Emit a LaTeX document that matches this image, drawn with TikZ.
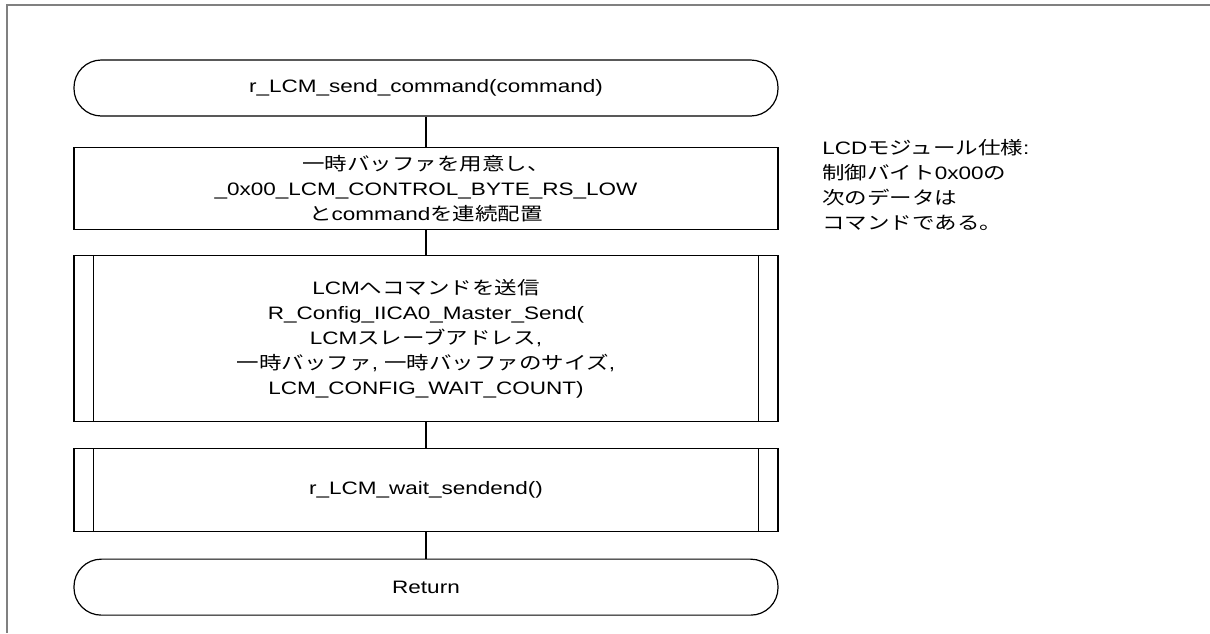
\documentclass[tikz,border=0pt]{standalone}
\usepackage{fontspec}
\setmainfont[FakeStretch=1.25]{Liberation Sans}
\newfontfamily\jp[FakeStretch=1.25]{Noto Sans CJK JP}
\usetikzlibrary{positioning}

\tikzset{
	terminal/.style={draw, line width=0.9pt, rounded corners=20.5pt, minimum width=528pt, minimum height=42pt, align=center},
	procbox/.style={draw, line width=0.9pt, minimum width=528pt, align=center},
	flowline/.style={line width=0.9pt},
}

\begin{document}
\begin{tikzpicture}[x=0.75pt, y=-0.75pt, font=\fontsize{13.5pt}{18.75pt}\selectfont, node distance=19.5pt]
	\useasboundingbox (0,0) rectangle (1210,633);

	% Frame (top and left edges)
	\draw[gray, line width=0.8pt] (1210,5) -- (7,5) -- (7,633);

	% Start
	\node[terminal] (start) at (426,88) {r\_LCM\_send\_command(command)};

	% Buffer setup
	\node[procbox, minimum height=61.5pt, below=22.5pt of start] (buf) {{\jp 一時バッファを用意し、}\\\_0x00\_LCM\_CONTROL\_BYTE\_RS\_LOW\\{\jp と}command{\jp を連続配置}};

	% Send command (predefined process)
	\node[procbox, minimum height=124.5pt, below=18.75pt of buf] (send) {LCM{\jp へコマンドを送信}\\R\_Config\_IICA0\_Master\_Send(\\LCM{\jp スレーブアドレス},\\{\jp 一時バッファ}, {\jp 一時バッファのサイズ},\\LCM\_CONFIG\_WAIT\_COUNT)};
	\draw[flowline] ([xshift=15pt]send.north west) -- ([xshift=15pt]send.south west);
	\draw[flowline] ([xshift=-15pt]send.north east) -- ([xshift=-15pt]send.south east);

	% Wait for end of sending (predefined process)
	\node[procbox, minimum height=62pt, below=of send] (wait) {r\_LCM\_wait\_sendend()};
	\draw[flowline] ([xshift=15pt]wait.north west) -- ([xshift=15pt]wait.south west);
	\draw[flowline] ([xshift=-15pt]wait.north east) -- ([xshift=-15pt]wait.south east);

	% Return
	\node[terminal, below=20pt of wait] (ret) {Return};

	% Flow lines
	\draw[flowline] (start) -- (buf);
	\draw[flowline] (buf) -- (send);
	\draw[flowline] (send) -- (wait);
	\draw[flowline] (wait) -- (ret);

	% Note
	\node[anchor=north west, align=left, inner sep=0pt] (note) at (822,139) {LCD{\jp モジュール仕様}:\\{\jp 制御バイト}0x00{\jp の}\\{\jp 次のデータは}\\{\jp コマンドである。}};
\end{tikzpicture}
\end{document}
